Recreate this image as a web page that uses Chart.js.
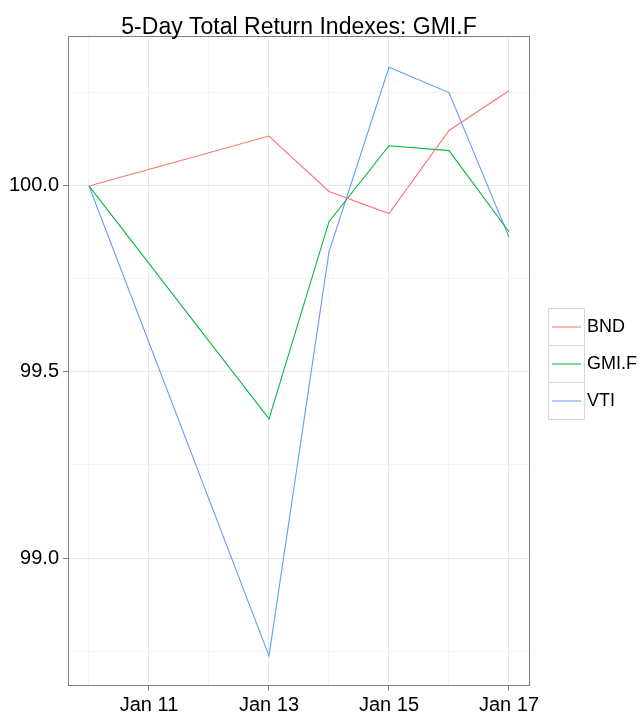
<!DOCTYPE html>
<html>
<head>
<meta charset="utf-8">
<script src="https://cdn.jsdelivr.net/npm/chart.js@4"></script>
<style>
  html, body { margin: 0; padding: 0; background: #fff; }
  #wrap { width: 643px; height: 713px; position: relative; }
</style>
</head>
<body>
<div id="wrap"><canvas id="returnChart"></canvas></div>
<script>
// days of January (trading days)
const days = [10, 13, 14, 15, 16, 17];
const bnd = [100.0, 100.134, 99.985, 99.926, 100.149, 100.256];
const gmif = [100.0, 99.374, 99.904, 100.108, 100.095, 99.877];
const vti = [100.0, 98.737, 99.823, 100.319, 100.251, 99.862];
const seriesNames = ["BND", "GMI.F", "VTI"];
const seriesColors = ["#F8766D", "#00BA38", "#619CFF"];
const xTicks = [10, 11, 12, 13, 14, 15, 16, 17];
const yTicks = [98.75, 99.0, 99.25, 99.5, 99.75, 100.0, 100.25];
const yLabels = [99.0, 99.5, 100.0];

const font = "'Liberation Sans', Arial, sans-serif";

function toPoints(values) {
  return days.map((d, i) => ({ x: d, y: values[i] }));
}

// title, panel border and legend
const decorPlugin = {
  id: "decor",
  afterDatasetsDraw(chart) {
    const ctx = chart.ctx;
    const a = chart.chartArea;
    ctx.save();
    ctx.strokeStyle = "#7f7f7f";
    ctx.lineWidth = 1;
    ctx.strokeRect(a.left + 0.5, a.top + 0.5, a.right - a.left - 1, a.bottom - a.top - 1);

    // title, centred over the panel
    ctx.fillStyle = "#000";
    ctx.font = "23px " + font;
    ctx.textAlign = "center";
    ctx.textBaseline = "alphabetic";
    ctx.fillText("5-Day Total Return Indexes: GMI.F", (a.left + a.right) / 2, 34);

    // legend
    const lx = 548, ly = 308, kw = 36, kh = 37;
    ctx.font = "18px " + font;
    ctx.textAlign = "left";
    ctx.textBaseline = "middle";
    seriesNames.forEach((name, i) => {
      const y = ly + i * kh;
      ctx.fillStyle = "#fff";
      ctx.fillRect(lx, y, kw, kh);
      ctx.strokeStyle = "#d9d9d9";
      ctx.strokeRect(lx + 0.5, y + 0.5, kw, kh);
      ctx.strokeStyle = seriesColors[i];
      ctx.beginPath();
      ctx.moveTo(lx + 4, y + kh / 2 + 0.5);
      ctx.lineTo(lx + kw - 3, y + kh / 2 + 0.5);
      ctx.stroke();
      ctx.fillStyle = "#000";
      ctx.fillText(name, lx + kw + 3, y + kh / 2 + 1);
    });
    ctx.restore();
  },
};

const ctx = document.getElementById("returnChart").getContext("2d");
new Chart(ctx, {
  type: "line",
  data: {
    datasets: [bnd, gmif, vti].map((vals, i) => ({
      label: seriesNames[i],
      data: toPoints(vals),
      borderColor: seriesColors[i],
      backgroundColor: seriesColors[i],
      borderWidth: 1.1,
      pointRadius: 0,
      tension: 0,
      fill: false,
    })),
  },
  options: {
    responsive: true,
    maintainAspectRatio: false,
    animation: false,
    layout: { padding: { top: 36, right: 113, left: 0, bottom: 0 } },
    plugins: {
      legend: { display: false },
      title: { display: false },
      tooltip: { enabled: false },
    },
    scales: {
      x: {
        type: "linear",
        min: 9.65,
        max: 17.35,
        afterBuildTicks: (scale) => {
          scale.ticks = xTicks.map((v) => ({ value: v }));
        },
        afterFit: (scale) => {
          scale.height = 27;
        },
        grid: {
          color: (c) => (c.tick && c.tick.value % 2 === 1 ? "#e8e8e8" : "#f4f4f4"),
          tickColor: (c) => (c.tick && c.tick.value % 2 === 1 ? "#7f7f7f" : "rgba(0,0,0,0)"),
          tickLength: 5,
          lineWidth: 1,
        },
        border: { display: false },
        ticks: {
          autoSkip: false,
          maxRotation: 0,
          padding: 2,
          color: "#000",
          font: { family: font, size: 20 },
          callback: (v) => (v % 2 === 1 ? "Jan " + v : ""),
        },
      },
      y: {
        type: "linear",
        min: 98.656,
        max: 100.403,
        afterBuildTicks: (scale) => {
          scale.ticks = yTicks.map((v) => ({ value: v }));
        },
        afterFit: (scale) => {
          scale.width = 68;
        },
        grid: {
          color: (c) => (c.tick && yLabels.includes(c.tick.value) ? "#e8e8e8" : "#f4f4f4"),
          tickColor: (c) => (c.tick && yLabels.includes(c.tick.value) ? "#7f7f7f" : "rgba(0,0,0,0)"),
          tickLength: 5,
          lineWidth: 1,
        },
        border: { display: false },
        ticks: {
          autoSkip: false,
          padding: 4,
          color: "#000",
          font: { family: font, size: 20 },
          callback: (v) => (yLabels.includes(v) ? v.toFixed(1) : ""),
        },
      },
    },
  },
  plugins: [decorPlugin],
});
</script>
</body>
</html>
